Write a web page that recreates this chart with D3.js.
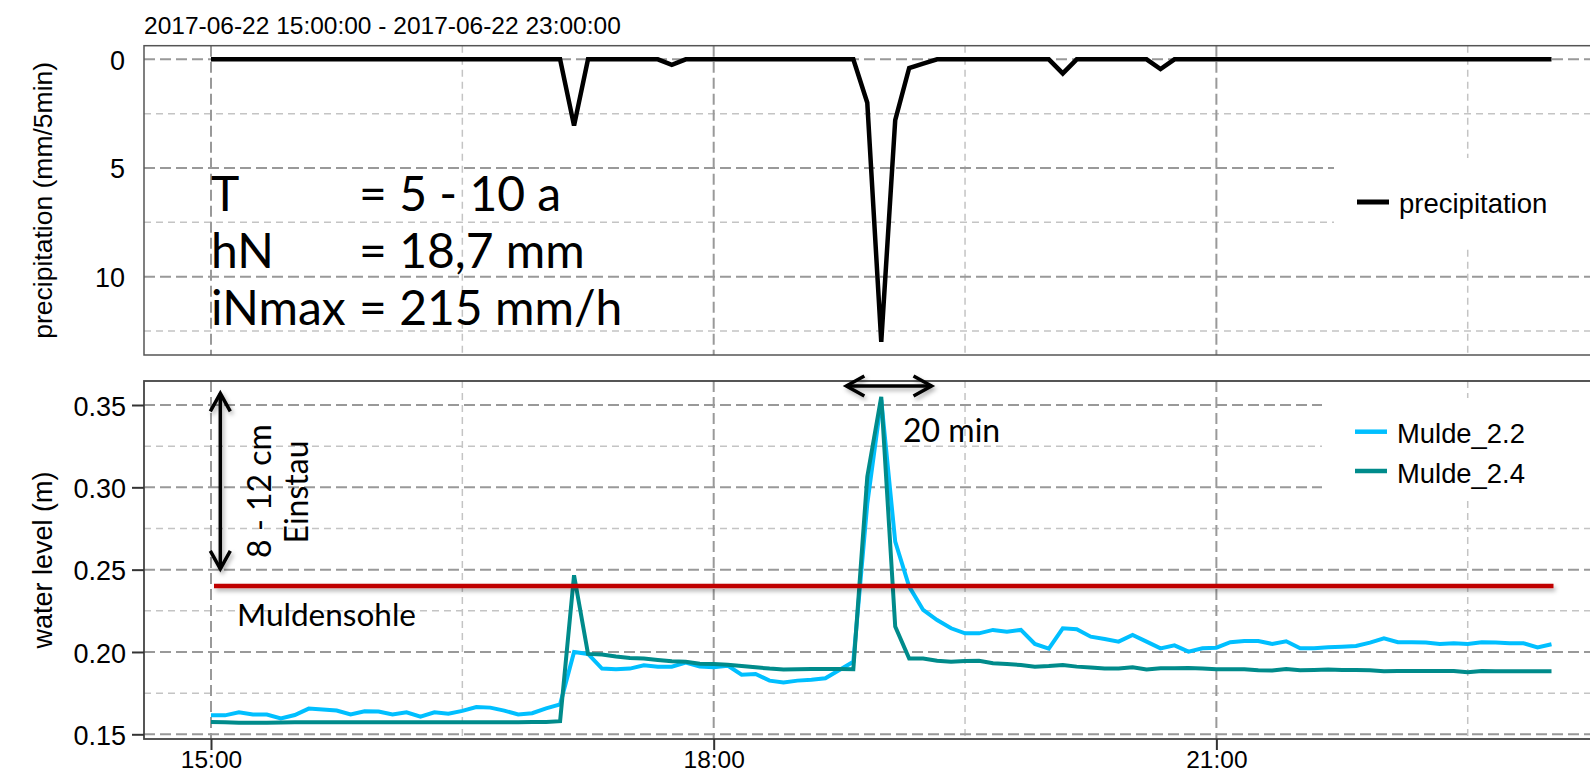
<!DOCTYPE html>
<html>
<head>
<meta charset="utf-8">
<script src="https://cdn.jsdelivr.net/npm/d3@7"></script>
<style>
  body { margin: 0; background: #fff; }
  svg text { font-family: "Liberation Sans", Arial, sans-serif; fill: #000; }
  svg text.note { font-family: Lato, "Open Sans", sans-serif; }
</style>
</head>
<body>
<script>
// 5-min time stamps 15:00 .. 23:00
const startTime = new Date(2017, 5, 22, 15, 0);
const endTime = new Date(2017, 5, 22, 23, 0);
const times = d3.timeMinute.every(5).range(startTime, new Date(2017, 5, 22, 23, 1));

// precipitation (mm/5min)
const precipitation = [
  0, 0, 0, 0, 0, 0, 0, 0, 0, 0, 0, 0,
  0, 0, 0, 0, 0, 0, 0, 0, 0, 0, 0, 0,
  0, 0, 3.05, 0, 0, 0, 0, 0, 0, 0.25, 0, 0,
  0, 0, 0, 0, 0, 0, 0, 0, 0, 0, 0, 2.0,
  13.0, 2.8, 0.4, 0.2, 0, 0, 0, 0, 0, 0, 0, 0,
  0, 0.65, 0, 0, 0, 0, 0, 0, 0.45, 0, 0, 0,
  0, 0, 0, 0, 0, 0, 0, 0, 0, 0, 0, 0,
  0, 0, 0, 0, 0, 0, 0, 0, 0, 0, 0, 0,
  0
];

// water level (m)
const mulde22 = [
  0.1615, 0.1615, 0.1634, 0.1620, 0.1620, 0.1597, 0.1617, 0.1656, 0.1650, 0.1644, 0.1620, 0.1640,
  0.1638, 0.1620, 0.1634, 0.1607, 0.1634, 0.1625, 0.1642, 0.1666, 0.1662, 0.1644, 0.1620, 0.1628,
  0.1658, 0.1682, 0.2000, 0.1988, 0.1899, 0.1895, 0.1899, 0.1919, 0.1911, 0.1911, 0.1935, 0.1911,
  0.1907, 0.1917, 0.1862, 0.1866, 0.1826, 0.1814, 0.1826, 0.1832, 0.1840, 0.1891, 0.1941, 0.2900,
  0.3530, 0.2670, 0.2397, 0.2255, 0.2194, 0.2144, 0.2113, 0.2113, 0.2134, 0.2123, 0.2134, 0.2049,
  0.2020, 0.2144, 0.2138, 0.2093, 0.2079, 0.2063, 0.2103, 0.2063, 0.2022, 0.2040, 0.2002, 0.2022,
  0.2026, 0.2059, 0.2067, 0.2067, 0.2049, 0.2065, 0.2022, 0.2022, 0.2028, 0.2032, 0.2036, 0.2057,
  0.2083, 0.2059, 0.2059, 0.2057, 0.2049, 0.2053, 0.2049, 0.2059, 0.2057, 0.2053, 0.2053, 0.2028,
  0.2047
];
const mulde24 = [
  0.1575, 0.1573, 0.1570, 0.1570, 0.1570, 0.1572, 0.1573, 0.1573, 0.1573, 0.1573, 0.1573, 0.1573,
  0.1573, 0.1573, 0.1573, 0.1573, 0.1573, 0.1573, 0.1573, 0.1573, 0.1573, 0.1573, 0.1573, 0.1574,
  0.1575, 0.1580, 0.2466, 0.1988, 0.1984, 0.1972, 0.1964, 0.1960, 0.1951, 0.1943, 0.1941, 0.1929,
  0.1927, 0.1923, 0.1915, 0.1907, 0.1899, 0.1893, 0.1895, 0.1897, 0.1897, 0.1897, 0.1895, 0.3065,
  0.3550, 0.2154, 0.1960, 0.1960, 0.1947, 0.1941, 0.1945, 0.1947, 0.1931, 0.1927, 0.1921, 0.1911,
  0.1915, 0.1921, 0.1911, 0.1905, 0.1899, 0.1899, 0.1907, 0.1893, 0.1901, 0.1901, 0.1903, 0.1899,
  0.1895, 0.1895, 0.1895, 0.1889, 0.1887, 0.1897, 0.1889, 0.1891, 0.1893, 0.1891, 0.1891, 0.1889,
  0.1883, 0.1885, 0.1885, 0.1885, 0.1885, 0.1885, 0.1877, 0.1885, 0.1883, 0.1883, 0.1883, 0.1883,
  0.1883
];
const muldensohle = 0.24;

const precipTicks = [0, 5, 10], precipMinor = [2.5, 7.5, 12.5];
const levelTicks = [0.15, 0.20, 0.25, 0.30, 0.35], levelMinor = [0.175, 0.225, 0.275, 0.325];
const timeTicks = [15, 18, 21].map(h => new Date(2017, 5, 22, h, 0));
const timeMinor = [16, 19, 22].map(h => new Date(2017, 5, 22, h, 30));

const width = 1590, height = 774;
const left = 144, right = 1600;
const top1 = 45.7, bot1 = 355, top2 = 381, bot2 = 739;

const svg = d3.select("body").append("svg")
    .attr("width", width)
    .attr("height", height);

const defs = svg.append("defs");
defs.append("filter").attr("id", "shadow")
    .attr("filterUnits", "userSpaceOnUse")
    .attr("x", 0).attr("y", 0).attr("width", width).attr("height", height)
  .append("feDropShadow")
    .attr("dx", 2).attr("dy", 3).attr("stdDeviation", 2)
    .attr("flood-color", "#000").attr("flood-opacity", 0.3);
defs.append("marker").attr("id", "head")
    .attr("viewBox", "-24 -14 28 28")
    .attr("markerUnits", "userSpaceOnUse")
    .attr("markerWidth", 28).attr("markerHeight", 28)
    .attr("refX", 0).attr("refY", 0)
    .attr("orient", "auto-start-reverse")
  .append("path")
    .attr("d", "M-18,-10 L0,0 L-18,10")
    .attr("fill", "none").attr("stroke", "#000")
    .attr("stroke-width", 3.5).attr("stroke-linejoin", "miter");

const x = d3.scaleTime().domain([startTime, endTime]).range([211, 1551.5]);
const yP = d3.scaleLinear().domain([0, 10]).range([59.3, 276.7]);
const yW = d3.scaleLinear().domain([0.15, 0.35]).range([734.3, 405]);

// title
svg.append("text")
    .attr("x", 144).attr("y", 34)
    .style("font-size", "24.5px")
    .text("2017-06-22 15:00:00 - 2017-06-22 23:00:00");

function gridlines(y0, y1, yScale, major, minor) {
  const g = svg.append("g");
  g.selectAll(".hmin").data(minor).enter().append("line")
      .attr("x1", left).attr("x2", right)
      .attr("y1", d => yScale(d)).attr("y2", d => yScale(d))
      .attr("stroke", "#c4c4c4").attr("stroke-width", 1.5).attr("stroke-dasharray", "7,5");
  g.selectAll(".vmin").data(timeMinor).enter().append("line")
      .attr("x1", d => x(d)).attr("x2", d => x(d))
      .attr("y1", y0).attr("y2", y1)
      .attr("stroke", "#c4c4c4").attr("stroke-width", 1.5).attr("stroke-dasharray", "7,5");
  g.selectAll(".hmaj").data(major).enter().append("line")
      .attr("x1", left).attr("x2", right)
      .attr("y1", d => yScale(d)).attr("y2", d => yScale(d))
      .attr("stroke", "#999").attr("stroke-width", 2).attr("stroke-dasharray", "11,5");
  g.selectAll(".vmaj").data(timeTicks).enter().append("line")
      .attr("x1", d => x(d)).attr("x2", d => x(d))
      .attr("y1", y0).attr("y2", y1)
      .attr("stroke", "#999").attr("stroke-width", 2).attr("stroke-dasharray", "11,5");
}

gridlines(top1, bot1, yP, precipTicks, precipMinor);
gridlines(top2, bot2, yW, levelTicks, levelMinor);

// legend backgrounds (hide grid)
svg.append("rect").attr("x", 1334).attr("y", 158).attr("width", 270).attr("height", 87).attr("fill", "#fff");
svg.append("rect").attr("x", 1322).attr("y", 398).attr("width", 280).attr("height", 99).attr("fill", "#fff");

// precipitation line
const precipLine = d3.line()
    .x((d, i) => x(times[i]))
    .y(d => yP(d));
svg.append("path")
    .datum(precipitation)
    .attr("d", precipLine)
    .attr("fill", "none").attr("stroke", "#000")
    .attr("stroke-width", 4.5).attr("stroke-linejoin", "miter");

// water level lines
const levelLine = d3.line()
    .x((d, i) => x(times[i]))
    .y(d => yW(d));
svg.append("path").datum(mulde22).attr("d", levelLine)
    .attr("fill", "none").attr("stroke", "#00bfff").attr("stroke-width", 4);
svg.append("path").datum(mulde24).attr("d", levelLine)
    .attr("fill", "none").attr("stroke", "#008b8b").attr("stroke-width", 4);

// Muldensohle
svg.append("line")
    .attr("x1", x(startTime) + 3).attr("x2", x(endTime) + 2)
    .attr("y1", yW(muldensohle)).attr("y2", yW(muldensohle))
    .attr("stroke", "#c00000").attr("stroke-width", 4.5)
    .attr("filter", "url(#shadow)");

// panel borders
svg.append("rect").attr("x", left).attr("y", top1).attr("width", right - left).attr("height", bot1 - top1)
    .attr("fill", "none").attr("stroke", "#555").attr("stroke-width", 1.5);
svg.append("rect").attr("x", left).attr("y", top2).attr("width", right - left).attr("height", bot2 - top2)
    .attr("fill", "none").attr("stroke", "#444").attr("stroke-width", 1.8);

// axes
const axP = svg.append("g").attr("transform", `translate(${left},0)`)
    .call(d3.axisLeft(yP).tickValues(precipTicks).tickSize(0).tickPadding(19));
const axW = svg.append("g").attr("transform", `translate(${left},0)`)
    .call(d3.axisLeft(yW).tickValues(levelTicks).tickSize(12).tickPadding(6).tickFormat(d3.format(".2f")));
const axX = svg.append("g").attr("transform", `translate(0,${bot2})`)
    .call(d3.axisBottom(x).tickValues(timeTicks).tickSize(11).tickPadding(0).tickFormat(d3.timeFormat("%H:%M")));
[axP, axW, axX].forEach(a => {
  a.select(".domain").remove();
  a.selectAll("text").style("font-size", "27px").style("font-family", "'Liberation Sans', Arial, sans-serif").attr("fill", "#000");
  a.selectAll(".tick line").attr("stroke", "#333").attr("stroke-width", 2);
});
axW.selectAll("text").attr("dy", "0.38em");
axP.selectAll("text").attr("dy", "0.36em");
axX.selectAll("text").style("font-size", "24.5px").attr("y", 29).attr("dy", null);

// axis titles
svg.append("text")
    .attr("transform", `translate(52,${(top1 + bot1) / 2}) rotate(-90)`)
    .attr("text-anchor", "middle")
    .style("font-size", "26.5px")
    .text("precipitation (mm/5min)");
svg.append("text")
    .attr("transform", `translate(52,${(top2 + bot2) / 2}) rotate(-90)`)
    .attr("text-anchor", "middle")
    .style("font-size", "27px")
    .text("water level (m)");

// legends
svg.append("line").attr("x1", 1357).attr("x2", 1389).attr("y1", 202).attr("y2", 202)
    .attr("stroke", "#000").attr("stroke-width", 5);
svg.append("text").attr("x", 1399).attr("y", 213).style("font-size", "27.5px").text("precipitation");

const legendItems = [["Mulde_2.2", "#00bfff"], ["Mulde_2.4", "#008b8b"]];
legendItems.forEach((d, i) => {
  const yy = 431.7 + i * 39.3;
  svg.append("line").attr("x1", 1355).attr("x2", 1387).attr("y1", yy).attr("y2", yy)
      .attr("stroke", d[1]).attr("stroke-width", 4.5);
  svg.append("text").attr("x", 1397).attr("y", yy + 11.5).style("font-size", "27.4px").text(d[0]);
});

// annotations: rain statistics
const stats = [["T", "= 5 - 10 a"], ["hN", "= 18,7 mm"], ["iNmax", "= 215 mm/h"]];
stats.forEach((d, i) => {
  const by = 211 + i * 57;
  svg.append("text").attr("class", "note").attr("x", 211).attr("y", by).style("font-size", "48px").text(d[0]);
  svg.append("text").attr("class", "note").attr("x", 359).attr("y", by).style("font-size", "48px").text(d[1]);
});

// vertical arrow "8 - 12 cm Einstau"
const arrowT = new Date(2017, 5, 22, 15, 3, 20);
svg.append("line")
    .attr("x1", x(arrowT)).attr("x2", x(arrowT))
    .attr("y1", yW(0.357)).attr("y2", yW(0.2505))
    .attr("stroke", "#000").attr("stroke-width", 3.5)
    .attr("marker-start", "url(#head)").attr("marker-end", "url(#head)")
    .attr("filter", "url(#shadow)");
svg.append("text").attr("class", "note")
    .attr("transform", `translate(271,491) rotate(-90)`)
    .attr("text-anchor", "middle").style("font-size", "32px")
    .text("8 - 12 cm");
svg.append("text").attr("class", "note")
    .attr("transform", `translate(308,492) rotate(-90)`)
    .attr("text-anchor", "middle").style("font-size", "32px")
    .text("Einstau");

// Muldensohle label
svg.append("text").attr("class", "note")
    .attr("x", 237).attr("y", 626).style("font-size", "31.5px")
    .text("Muldensohle");

// horizontal arrow "20 min"
svg.append("line")
    .attr("x1", x(new Date(2017, 5, 22, 18, 47, 30))).attr("x2", x(new Date(2017, 5, 22, 19, 18, 0)))
    .attr("y1", 386).attr("y2", 386)
    .attr("stroke", "#000").attr("stroke-width", 3.5)
    .attr("marker-start", "url(#head)").attr("marker-end", "url(#head)")
    .attr("filter", "url(#shadow)");
svg.append("text").attr("class", "note")
    .attr("x", 903).attr("y", 442).style("font-size", "32px")
    .text("20 min");
</script>
</body>
</html>
